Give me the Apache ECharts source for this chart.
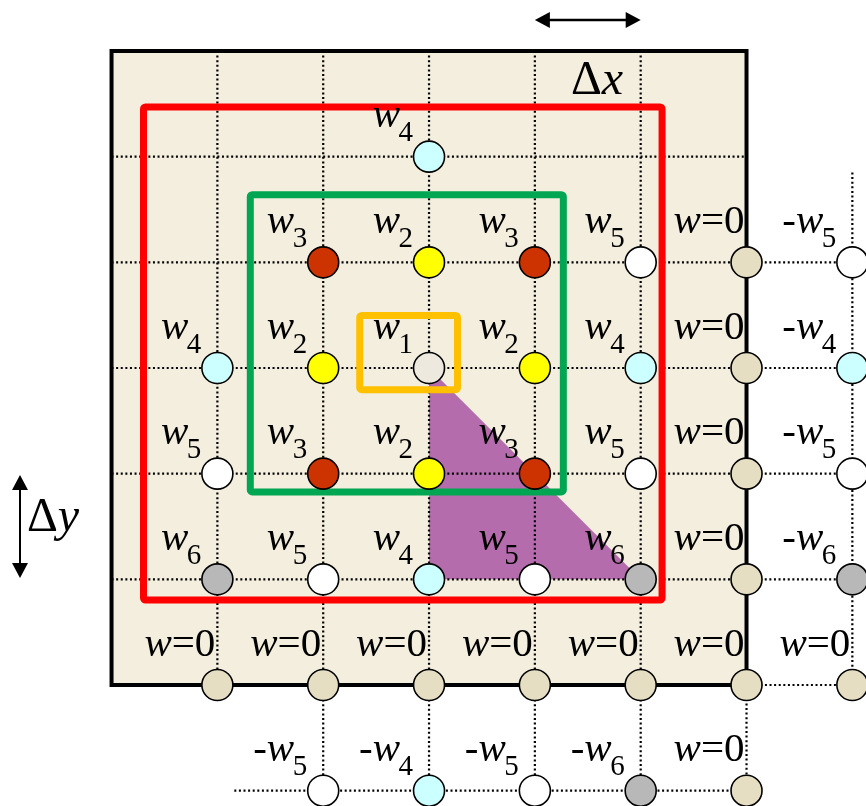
<!DOCTYPE html>
<html><head><meta charset="utf-8">
<script src="https://cdn.jsdelivr.net/npm/echarts@6/dist/echarts.min.js"></script>
<style>html,body{margin:0;padding:0;background:#fff}#c{width:866px;height:806px}</style>
</head><body><div id="c"></div><script>
// ---- data (grid units; node at centre is (0,0)) ----
const nodes = [
  [0, 2, 'w4'],
  [-1, 1, 'w3'], [0, 1, 'w2'], [1, 1, 'w3'], [2, 1, 'w5'], [3, 1, 'w=0'], [4, 1, '-w5'],
  [-2, 0, 'w4'], [-1, 0, 'w2'], [0, 0, 'w1'], [1, 0, 'w2'], [2, 0, 'w4'], [3, 0, 'w=0'], [4, 0, '-w4'],
  [-2, -1, 'w5'], [-1, -1, 'w3'], [0, -1, 'w2'], [1, -1, 'w3'], [2, -1, 'w5'], [3, -1, 'w=0'], [4, -1, '-w5'],
  [-2, -2, 'w6'], [-1, -2, 'w5'], [0, -2, 'w4'], [1, -2, 'w5'], [2, -2, 'w6'], [3, -2, 'w=0'], [4, -2, '-w6'],
  [-2, -3, 'w=0'], [-1, -3, 'w=0'], [0, -3, 'w=0'], [1, -3, 'w=0'], [2, -3, 'w=0'], [3, -3, 'w=0'], [4, -3, 'w=0'],
  [-1, -4, '-w5'], [0, -4, '-w4'], [1, -4, '-w5'], [2, -4, '-w6'], [3, -4, 'w=0']
];
const domainBox = [-3, 3, 3, -3];
const frames = [
  ['red', -2.698, 2.470, 2.202, -2.196],
  ['green', -1.689, 1.640, 1.269, -1.173],
  ['orange', -0.655, 0.497, 0.269, -0.205]
];
const wedge = [[0, 0], [0, -2], [2, -2]];
const dottedH = [[2, -3, 3], [1, -3, 4.2], [0, -3, 4.2], [-1, -3, 4.2], [-2, -3, 4.2], [-3, 3, 4], [-4, -1.84, 3]];
const dottedV = [[-2, 3, -3], [-1, 3, -4], [0, 3, -4], [1, 3, -4], [2, 3, -4], [3, -3, -4], [4, 1.85, -3]];
const arrowsH = [[1.0, 2.0, 3.293]];
const arrowsV = [[-3.865, -1.013, -1.987]];
const deltaLabels = [[1.587, 2.716, 'x'], [-3.553, -1.42, 'y']];

// ---- styles ----
const nodeColors = {w1: '#EDE9DE', w2: '#FFFF00', w3: '#CC3300', w4: '#CCFFFF', w5: '#FFFFFF', w6: '#B8B8B8', zero: '#E6DEC3'};
const frameColors = {red: '#FF0000', green: '#00A651', orange: '#FFC000'};
const SERIF = '"Liberation Serif","DejaVu Serif",serif';
const kindOf = l => l === 'w=0' ? 'zero' : l.replace('-', '');

const segs = [];
dottedH.forEach(d => segs.push([d[1], d[0], d[2], d[0]]));
dottedV.forEach(d => segs.push([d[0], d[1], d[0], d[2]]));

function arrowHead(tip, dir) {
  const L = 15, W = 8;
  const bx = tip[0] - dir[0] * L, by = tip[1] - dir[1] * L;
  return {type: 'polygon', shape: {points: [tip, [bx - dir[1] * W, by + dir[0] * W], [bx + dir[1] * W, by - dir[0] * W]]}, style: {fill: '#000'}};
}

const chart = echarts.init(document.getElementById('c'), null, {renderer: 'canvas'});
chart.setOption({
  animation: false,
  grid: {left: 0, right: 0, top: 0, bottom: 0},
  xAxis: {type: 'value', min: -4.054, max: 4.129, show: false},
  yAxis: {type: 'value', min: -4.145, max: 3.4826, show: false},
  series: [
    {
      type: 'custom', z: 1, data: [domainBox],
      renderItem: (p, api) => {
        const a = api.coord([api.value(0), api.value(1)]), b = api.coord([api.value(2), api.value(3)]);
        return {type: 'rect', shape: {x: a[0], y: a[1], width: b[0] - a[0], height: b[1] - a[1]},
          style: {fill: '#F3EEDD', stroke: '#000', lineWidth: 4}};
      }
    },
    {
      type: 'custom', z: 2, data: [0],
      renderItem: (p, api) => ({type: 'polygon', shape: {points: wedge.map(v => api.coord(v))},
        style: {fill: '#B46CAD'}})
    },
    {
      type: 'custom', z: 3, data: segs,
      renderItem: (p, api) => {
        const a = api.coord([api.value(0), api.value(1)]), b = api.coord([api.value(2), api.value(3)]);
        return {type: 'line', shape: {x1: a[0], y1: a[1], x2: b[0], y2: b[1]},
          style: {stroke: '#000', lineWidth: 2.2, lineDash: [2, 2.6]}};
      }
    },
    {
      type: 'custom', z: 4, data: frames.map(f => [f[1], f[2], f[3], f[4]]),
      renderItem: (p, api) => {
        const a = api.coord([api.value(0), api.value(1)]), b = api.coord([api.value(2), api.value(3)]);
        return {type: 'rect', shape: {x: a[0], y: a[1], width: b[0] - a[0], height: b[1] - a[1], r: 2},
          style: {fill: 'none', stroke: frameColors[frames[p.dataIndex][0]], lineWidth: 7, lineJoin: 'round'}};
      }
    },
    {
      type: 'custom', z: 4, data: arrowsH,
      renderItem: (p, api) => {
        const a = api.coord([api.value(0), api.value(2)]), b = api.coord([api.value(1), api.value(2)]);
        return {type: 'group', children: [
          {type: 'line', shape: {x1: a[0] + 10, y1: a[1], x2: b[0] - 10, y2: b[1]}, style: {stroke: '#000', lineWidth: 2.5}},
          arrowHead(a, [-1, 0]), arrowHead(b, [1, 0])]};
      }
    },
    {
      type: 'custom', z: 4, data: arrowsV,
      renderItem: (p, api) => {
        const a = api.coord([api.value(0), api.value(1)]), b = api.coord([api.value(0), api.value(2)]);
        return {type: 'group', children: [
          {type: 'line', shape: {x1: a[0], y1: a[1] + 10, x2: b[0], y2: b[1] - 10}, style: {stroke: '#000', lineWidth: 2}},
          arrowHead(a, [0, -1]), arrowHead(b, [0, 1])]};
      }
    },
    {
      type: 'custom', z: 6, data: deltaLabels.map(d => [d[0], d[1]]),
      renderItem: (p, api) => {
        const c = api.coord([api.value(0), api.value(1)]);
        return {type: 'text', x: c[0], y: c[1], style: {
          text: '{u|Δ}{i|' + deltaLabels[p.dataIndex][2] + '}', align: 'center', verticalAlign: 'middle',
          rich: {u: {fontFamily: SERIF, fontSize: 48, fill: '#000'}, i: {fontFamily: SERIF, fontStyle: 'italic', fontSize: 48, fill: '#000'}}}};
      }
    },
    {
      type: 'scatter', z: 5, symbol: 'circle', symbolSize: 31,
      data: nodes.map(n => ({value: [n[0], n[1]], itemStyle: {color: nodeColors[kindOf(n[2])]}})),
      itemStyle: {borderColor: '#000', borderWidth: 1.6, opacity: 1}
    },
    {
      type: 'custom', z: 6, data: nodes.map(n => [n[0], n[1]]),
      renderItem: (p, api) => {
        const c = api.coord([api.value(0), api.value(1)]);
        const lab = nodes[p.dataIndex][2];
        const rich = {i: {fontFamily: SERIF, fontStyle: 'italic', fontSize: 41, fill: '#000'},
                      u: {fontFamily: SERIF, fontSize: 41, fill: '#000'}};
        if (lab === 'w=0') {
          return {type: 'text', x: c[0] - 2, y: c[1] - 40, style: {text: '{i|w}{u|=0}', rich, align: 'right', verticalAlign: 'middle'}};
        }
        const neg = lab[0] === '-';
        const digit = lab[lab.length - 1];
        return {type: 'group', children: [
          {type: 'text', x: c[0] - 29, y: c[1] - 40, style: {text: neg ? '{u|-}{i|w}' : '{i|w}', rich, align: 'right', verticalAlign: 'middle'}},
          {type: 'text', x: c[0] - 16, y: c[1] - 23, style: {text: digit, fontFamily: SERIF, fontSize: 29, fill: '#000', align: 'right', verticalAlign: 'middle'}}
        ]};
      }
    }
  ]
});
</script></body></html>
